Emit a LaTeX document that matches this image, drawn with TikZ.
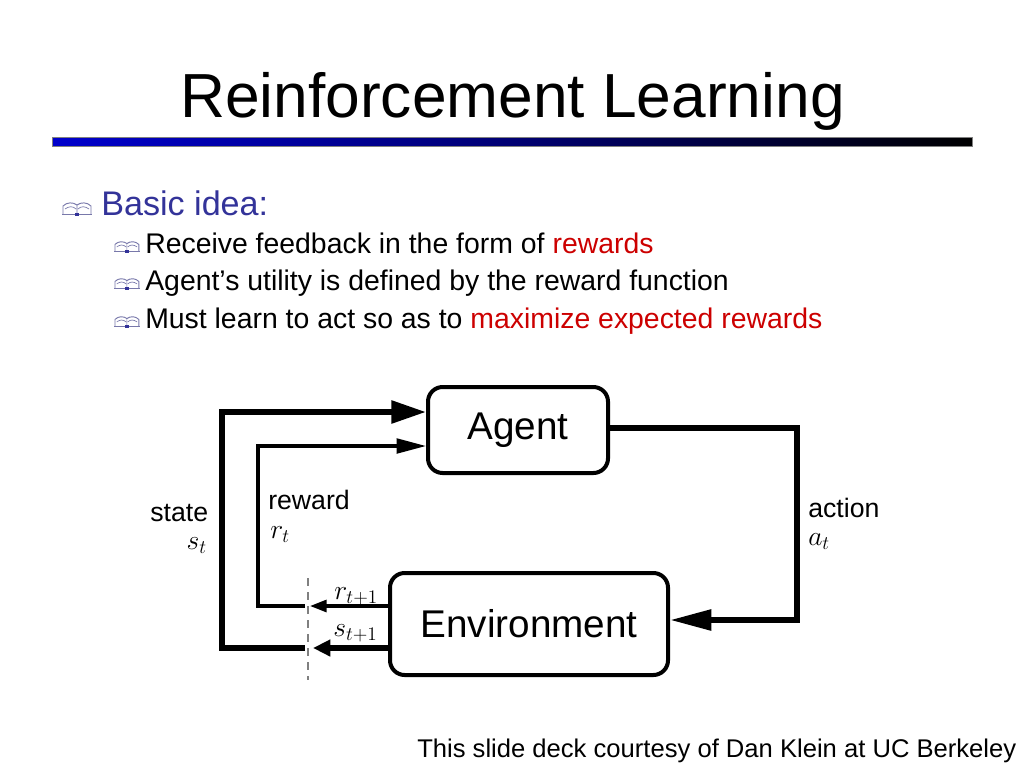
\documentclass[tikz,border=0pt]{standalone}
\usepackage{fontspec}
\setmainfont{Liberation Sans}
\usetikzlibrary{positioning, arrows.meta, calc}

\definecolor{ideablue}{RGB}{51,51,153}
\definecolor{hotred}{RGB}{204,0,0}
\definecolor{bookline}{RGB}{120,120,170}

\tikzset{
  box/.style={draw, line width=3pt, rounded corners=11pt, inner sep=0pt,
    font=\fontsize{29}{34}\selectfont},
  fatline/.style={line width=4.3pt},
  thinline/.style={line width=2.3pt},
  lab/.style={inner sep=0pt, font=\fontsize{20}{24}\selectfont},
  txt/.style={anchor=base west, inner sep=0pt},
  pics/bookicon/.style={code={
    \draw[bookline, line width=0.7pt, line join=round]
      (0,12) -- (0,4) .. controls (4,0) and (10,0) .. (14,3)
      .. controls (18,0) and (24,0) .. (28,4) -- (28,12);
    \draw[bookline, line width=0.5pt] (14,3) -- (14,12)
      (2,7) .. controls (6,4) and (10,4) .. (13,7)
      (15,7) .. controls (18,4) and (22,4) .. (26,7);
    \draw[bookline, line width=1.2pt] (-1,12.5) -- (29,12.5);
    \draw[ideablue, line width=1.8pt] (12,12.5) -- (16,12.5);
  }}
}

\begin{document}
\begin{tikzpicture}[x=0.75pt, y=-0.75pt]
  \useasboundingbox (0,0) rectangle (1024,768);
  % title and bar
  \node[txt, font=\fontsize{46.7}{56}\selectfont] (title) at (180,117) {Reinforcement Learning};
  \shade[left color=blue!80!black, right color=black, middle color=blue!45!black]
    (52,137) rectangle (972,146);
  \draw[gray, line width=0.4pt] (52,137) rectangle (972,146);
  % bullets
  \pic at (63,202) {bookicon};
  \node[txt, text=ideablue, font=\fontsize{25.6}{30}\selectfont] (idea) at (101,215) {Basic idea:};
  \foreach \yy/\line in {253/{Receive feedback in the form of \textcolor{hotred}{rewards}},
      290/{Agent’s utility is defined by the reward function},
      328/{Must learn to act so as to \textcolor{hotred}{maximize expected rewards}}}{
    \pic[scale=0.85] at (115,\yy-12) {bookicon};
    \node[txt, font=\fontsize{21.3}{26}\selectfont] at (145,\yy) {\line};
  }
  % agent / environment loop
  \node[box, minimum width=135pt, minimum height=64.5pt] (agent) at (518,430) {Agent};
  \node[box, minimum width=208.5pt, minimum height=76.5pt] (env) at (529,624) {Environment};
  \draw[gray, line width=1.6pt, dash pattern=on 6pt off 4.5pt] (308,578) -- (308,680);
  \coordinate (rin) at (310,606);
  \coordinate (rout) at (305,606);
  \coordinate (sin) at (313,648);
  \coordinate (sout) at (305,648);
  % state
  \draw[fatline, -{Triangle[length=13pt,width=12pt]}] (env.west |- sin) -- (sin);
  \draw[fatline, -{Triangle[length=26pt,width=16.5pt]}]
    (sout) -- (222,648) |- ($(agent.west)+(0,-18)$);
  % reward
  \draw[thinline, -{Triangle[length=12.5pt,width=9pt]}] (env.west |- rin) -- (rin);
  \draw[thinline, -{Triangle[length=22pt,width=11pt]}]
    (rout) -- (258,606) |- ($(agent.west)+(0,16)$);
  % action
  \draw[fatline, -{Triangle[length=31pt,width=15pt]}]
    ($(agent.east)+(0,-2)$) -- (797,428) |- ($(env.east)+(0,-4)$);
  % labels
  \node[lab, anchor=base west] (statelab) at (150,521) {state};
  \node[lab, anchor=base east] (stsym) at (207,549) {$s_t$};
  \node[lab, anchor=base west] (rewlab) at (268,509) {reward};
  \node[lab, anchor=base west] (rtsym) at (270,538) {$r_t$};
  \node[lab, anchor=base west] (actlab) at (808,517) {action};
  \node[lab, anchor=base west] (atsym) at (808,545) {$a_t$};
  \node[lab, anchor=base west] (rnext) at (334,599) {$r_{t+1}$};
  \node[lab, anchor=base west] (snext) at (333,636) {$s_{t+1}$};
  % credit
  \node[txt, font=\fontsize{19.2}{23}\selectfont] (credit) at (417,757)
    {This slide deck courtesy of Dan Klein at UC Berkeley};
\end{tikzpicture}
\end{document}
